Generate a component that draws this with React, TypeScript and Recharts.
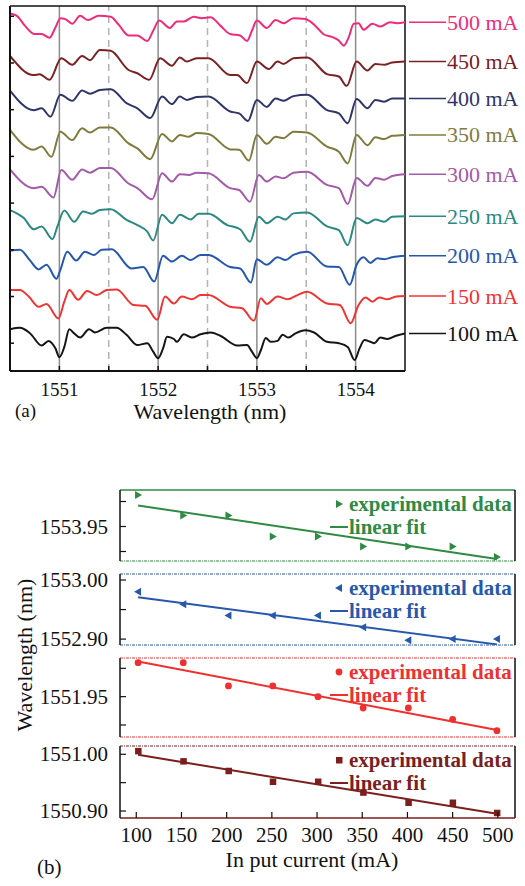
import { LineChart, Line, XAxis, YAxis, ReferenceLine, ComposedChart, Scatter, Legend } from "recharts";

const SERIF = "'Liberation Serif', 'DejaVu Serif', serif";

// (a) transmission spectra: wavelength (nm) and stacked level (a.u.)
const wl100 = [1550.5, 1550.6, 1550.7, 1550.82, 1550.89, 1550.96, 1551.0, 1551.05, 1551.1, 1551.15, 1551.21, 1551.3, 1551.36, 1551.48, 1551.58, 1551.68, 1551.79, 1551.89, 1551.95, 1552.0, 1552.05, 1552.09, 1552.16, 1552.19, 1552.26, 1552.34, 1552.43, 1552.53, 1552.63, 1552.8, 1552.9, 1552.95, 1553.0, 1553.04, 1553.09, 1553.14, 1553.21, 1553.26, 1553.32, 1553.39, 1553.49, 1553.58, 1553.71, 1553.83, 1553.92, 1553.99, 1554.04, 1554.09, 1554.15, 1554.19, 1554.25, 1554.32, 1554.41, 1554.5];
const lv100 = [3.0, 3.3, 2.2, -0.5, 0.5, -1.1, -3.0, -0.8, 3.0, 2.1, 1.2, 3.0, 2.3, 3.3, 3.3, 1.8, -0.4, 0.0, -1.8, -3.2, -1.1, 1.4, 0.9, 0.3, 1.9, 1.2, 1.9, 2.3, 1.6, -0.5, -0.4, -1.8, -3.2, -1.5, 1.1, 0.3, 0.5, 1.8, 1.2, 2.1, 2.8, 2.3, 0.3, 0.0, -0.8, -3.6, -1.1, 0.7, 0.3, 0.0, 1.2, 0.9, 1.6, 2.1];

const wl150 = [1550.5, 1550.6, 1550.69, 1550.79, 1550.87, 1550.99, 1551.05, 1551.1, 1551.19, 1551.28, 1551.38, 1551.48, 1551.58, 1551.75, 1551.87, 1551.99, 1552.07, 1552.16, 1552.24, 1552.34, 1552.43, 1552.51, 1552.73, 1552.85, 1552.97, 1553.04, 1553.1, 1553.21, 1553.31, 1553.41, 1553.51, 1553.71, 1553.84, 1553.95, 1554.03, 1554.1, 1554.17, 1554.24, 1554.32, 1554.41, 1554.5];
const lv150 = [11.4, 11.4, 10.0, 7.8, 8.4, 5.3, 8.9, 11.4, 9.3, 11.2, 10.3, 11.4, 11.5, 8.2, 8.0, 5.0, 10.0, 8.5, 10.0, 9.4, 10.3, 10.3, 7.8, 7.5, 4.8, 9.6, 8.4, 10.0, 9.4, 10.3, 11.0, 8.5, 8.2, 4.3, 8.2, 9.8, 8.9, 9.8, 9.4, 10.0, 10.1];

const wl200 = [1550.5, 1550.6, 1550.7, 1550.79, 1550.87, 1550.97, 1551.01, 1551.08, 1551.17, 1551.26, 1551.35, 1551.43, 1551.53, 1551.73, 1551.85, 1551.96, 1552.05, 1552.14, 1552.24, 1552.33, 1552.43, 1552.51, 1552.73, 1552.83, 1552.94, 1553.0, 1553.1, 1553.21, 1553.29, 1553.37, 1553.51, 1553.71, 1553.83, 1553.94, 1554.01, 1554.08, 1554.15, 1554.22, 1554.29, 1554.37, 1554.5];
const lv200 = [19.8, 20.0, 17.8, 15.8, 16.8, 13.8, 15.7, 19.6, 17.7, 19.6, 18.9, 20.0, 20.1, 16.0, 16.3, 13.2, 18.7, 17.5, 18.7, 17.8, 18.9, 18.9, 16.3, 16.0, 13.0, 18.0, 16.8, 18.4, 17.8, 18.9, 19.6, 16.4, 16.3, 12.5, 16.8, 18.4, 17.2, 18.2, 18.0, 18.4, 18.7];

const wl250 = [1550.5, 1550.64, 1550.74, 1550.82, 1550.93, 1550.98, 1551.05, 1551.15, 1551.24, 1551.33, 1551.41, 1551.52, 1551.68, 1551.79, 1551.89, 1551.95, 1552.04, 1552.14, 1552.22, 1552.33, 1552.41, 1552.51, 1552.7, 1552.83, 1552.93, 1553.02, 1553.1, 1553.21, 1553.29, 1553.37, 1553.51, 1553.71, 1553.83, 1553.92, 1554.01, 1554.12, 1554.2, 1554.29, 1554.37, 1554.5];
const lv250 = [28.5, 26.8, 24.4, 25.0, 22.3, 25.0, 28.4, 26.0, 28.2, 27.7, 28.5, 28.7, 26.4, 25.3, 23.9, 22.0, 27.5, 25.7, 27.5, 26.5, 27.7, 27.7, 25.3, 24.4, 21.7, 27.1, 25.7, 27.1, 26.5, 27.8, 28.0, 25.0, 24.2, 21.0, 26.8, 25.7, 26.5, 26.0, 27.1, 27.2];

const wl300 = [1550.5, 1550.74, 1550.82, 1550.94, 1551.02, 1551.13, 1551.23, 1551.31, 1551.41, 1551.52, 1551.7, 1551.79, 1551.94, 1552.04, 1552.14, 1552.22, 1552.31, 1552.39, 1552.51, 1552.73, 1552.82, 1552.93, 1553.02, 1553.1, 1553.19, 1553.27, 1553.37, 1553.51, 1553.71, 1553.83, 1553.92, 1554.01, 1554.12, 1554.2, 1554.29, 1554.37, 1554.5];
const lv300 = [37.2, 33.2, 33.5, 31.2, 37.1, 35.0, 37.2, 36.5, 37.5, 37.5, 34.2, 33.2, 30.8, 36.4, 34.6, 36.2, 36.0, 36.5, 36.4, 33.2, 32.8, 30.3, 36.0, 34.6, 35.7, 35.3, 36.5, 36.7, 33.9, 33.2, 29.8, 35.4, 33.7, 35.4, 35.0, 35.8, 36.2];

const wl350 = [1550.5, 1550.74, 1550.82, 1550.92, 1551.01, 1551.13, 1551.23, 1551.31, 1551.41, 1551.52, 1551.7, 1551.79, 1551.92, 1552.04, 1552.14, 1552.22, 1552.31, 1552.39, 1552.51, 1552.73, 1552.82, 1552.92, 1553.0, 1553.1, 1553.19, 1553.27, 1553.37, 1553.51, 1553.71, 1553.83, 1553.92, 1554.01, 1554.12, 1554.2, 1554.29, 1554.37, 1554.5];
const lv350 = [45.7, 41.4, 42.1, 39.9, 45.3, 43.5, 46.0, 45.1, 46.2, 46.2, 42.8, 41.7, 39.4, 44.8, 43.2, 44.6, 44.2, 45.0, 44.8, 41.5, 41.4, 39.1, 44.6, 42.7, 44.2, 43.9, 45.3, 45.1, 42.1, 41.0, 38.5, 44.6, 42.4, 44.1, 43.7, 44.4, 44.6];

const wl400 = [1550.5, 1550.74, 1550.82, 1550.91, 1551.01, 1551.13, 1551.23, 1551.31, 1551.41, 1551.52, 1551.68, 1551.79, 1551.92, 1552.04, 1552.14, 1552.22, 1552.29, 1552.39, 1552.51, 1552.73, 1552.82, 1552.91, 1553.0, 1553.1, 1553.19, 1553.27, 1553.37, 1553.51, 1553.71, 1553.83, 1553.92, 1554.01, 1554.12, 1554.2, 1554.29, 1554.37, 1554.5];
const lv400 = [54.1, 49.9, 50.3, 48.5, 53.2, 51.9, 54.1, 53.4, 54.2, 54.4, 51.4, 50.3, 48.2, 52.8, 51.2, 52.8, 52.1, 52.7, 52.8, 49.6, 49.2, 47.6, 52.1, 50.6, 52.4, 51.9, 52.9, 53.2, 49.9, 49.2, 47.1, 52.3, 50.3, 52.1, 51.7, 52.4, 52.4];

const wl450 = [1550.5, 1550.74, 1550.8, 1550.9, 1551.02, 1551.13, 1551.23, 1551.31, 1551.41, 1551.52, 1551.7, 1551.79, 1551.91, 1552.02, 1552.14, 1552.22, 1552.29, 1552.39, 1552.51, 1552.73, 1552.8, 1552.9, 1553.0, 1553.12, 1553.21, 1553.27, 1553.37, 1553.51, 1553.71, 1553.83, 1553.91, 1554.01, 1554.12, 1554.2, 1554.29, 1554.37, 1554.5];
const lv450 = [61.5, 57.4, 57.6, 56.4, 61.0, 59.6, 61.5, 60.6, 62.8, 62.6, 58.5, 57.8, 56.4, 61.0, 59.4, 61.2, 60.3, 61.0, 61.0, 57.4, 57.4, 55.7, 60.3, 58.7, 60.3, 59.8, 61.0, 61.2, 57.6, 57.1, 55.1, 60.3, 58.4, 59.8, 59.6, 60.1, 60.3];

const wl500 = [1550.5, 1550.57, 1550.65, 1550.75, 1550.82, 1550.9, 1550.96, 1551.01, 1551.06, 1551.13, 1551.21, 1551.29, 1551.4, 1551.52, 1551.6, 1551.7, 1551.79, 1551.89, 1551.95, 1552.01, 1552.12, 1552.19, 1552.26, 1552.36, 1552.44, 1552.53, 1552.63, 1552.73, 1552.83, 1552.9, 1552.95, 1553.0, 1553.1, 1553.19, 1553.27, 1553.37, 1553.49, 1553.58, 1553.68, 1553.76, 1553.83, 1553.88, 1553.93, 1553.98, 1554.03, 1554.08, 1554.17, 1554.25, 1554.35, 1554.42, 1554.5];
const lv500 = [70.6, 70.1, 68.0, 66.2, 66.2, 65.4, 67.6, 69.6, 69.4, 68.4, 70.1, 69.2, 70.1, 69.9, 68.2, 65.9, 65.9, 64.7, 66.9, 69.1, 67.5, 68.9, 68.9, 69.9, 69.6, 69.8, 68.0, 66.2, 65.9, 64.7, 66.9, 69.1, 67.5, 69.2, 68.5, 69.6, 69.4, 68.2, 66.1, 65.6, 64.8, 63.7, 65.5, 68.4, 68.5, 67.1, 68.4, 67.8, 68.7, 68.5, 68.7];

const spectra = [
  { label: "100 mA", color: "#151515", wl: wl100, lv: lv100 },
  { label: "150 mA", color: "#ef3434", wl: wl150, lv: lv150 },
  { label: "200 mA", color: "#2657ad", wl: wl200, lv: lv200 },
  { label: "250 mA", color: "#2b8982", wl: wl250, lv: lv250 },
  { label: "300 mA", color: "#a35aa8", wl: wl300, lv: lv300 },
  { label: "350 mA", color: "#7f7b3d", wl: wl350, lv: lv350 },
  { label: "400 mA", color: "#2f3667", wl: wl400, lv: lv400 },
  { label: "450 mA", color: "#7a2125", wl: wl450, lv: lv450 },
  { label: "500 mA", color: "#ee2c7b", wl: wl500, lv: lv500 },
];

const wlDomain = [1550.5, 1554.5];
const levelDomain = [-5.95, 72.2];
const wlSolid = [1551, 1552, 1553, 1554];
const wlDashed = [1551.5, 1552.5, 1553.5];
const wlTicks = [1551, 1551.5, 1552, 1552.5, 1553, 1553.5, 1554];
const levelTicks = [0, 10, 20, 30, 40, 50, 60, 70];

// (b) dip wavelength (nm) vs input current (mA)
const currents = [102, 152, 202, 251, 301, 351, 401, 450, 499];
const dip1554 = [1554.013, 1553.972, 1553.972, 1553.93, 1553.93, 1553.91, 1553.91, 1553.91, 1553.889];
const dip1553 = [1552.98, 1552.959, 1552.94, 1552.94, 1552.94, 1552.92, 1552.898, 1552.9, 1552.9];
const dip1552 = [1552.01, 1552.01, 1551.969, 1551.969, 1551.95, 1551.93, 1551.93, 1551.91, 1551.89];
const dip1551 = [1551.006, 1550.988, 1550.971, 1550.952, 1550.952, 1550.933, 1550.915, 1550.915, 1550.897];
const fitCurrents = [102, 499];
const fit1554 = [1553.992, 1553.885];
const fit1553 = [1552.971, 1552.891];
const fit1552 = [1552.012, 1551.891];
const fit1551 = [1550.999, 1550.895];
const currentTicks = [100, 150, 200, 250, 300, 350, 400, 450, 500];
const currentDomain = [82, 519];

const panels = [
  { color: "#2f8a43", kind: "right", dips: dip1554, fit: fit1554, domain: [1553.881, 1554.023], ticks: [1553.9, 1553.95, 1554.0], labeled: [1553.95], top: 485, plotH: 71, solidTop: true, showX: false },
  { color: "#2758ab", kind: "left", dips: dip1553, fit: fit1553, domain: [1552.89, 1553.0102], ticks: [1552.9, 1552.95, 1553.0], labeled: [1552.9, 1553.0], top: 569, plotH: 71, solidTop: false, showX: false },
  { color: "#ee3030", kind: "circle", dips: dip1552, fit: fit1552, domain: [1551.8788, 1552.0182], ticks: [1551.9, 1551.95, 1552.0], labeled: [1551.95], top: 653, plotH: 79, solidTop: false, showX: false },
  { color: "#7b1e1e", kind: "square", dips: dip1551, fit: fit1551, domain: [1550.8877, 1551.0146], ticks: [1550.9, 1550.95, 1551.0], labeled: [1550.9, 1551.0], top: 741, plotH: 72, solidTop: false, showX: true },
];

const A_XGAP = 12;
const B_YGAP = 12;
const B_XGAP = 9;

function WlTick(props: any) {
  const { x, y, payload } = props;
  const v = payload.value;
  const axisY = y - A_XGAP;
  return (
    <g>
      <line x1={x} x2={x} y1={axisY} y2={axisY - 5} stroke="#111" strokeWidth={1.5} />
      {Number.isInteger(v) && (
        <text x={x} y={y} dy="0.71em" textAnchor="middle" fontSize={19} fontFamily={SERIF} fill="#111">{v}</text>
      )}
    </g>
  );
}

function LevelTick(props: any) {
  const { x, y } = props;
  const axisX = x + 2;
  return <line x1={axisX} x2={axisX + 4} y1={y} y2={y} stroke="#111" strokeWidth={1.5} />;
}

function SpectrumLabel(props: any) {
  const { index, last, color, text } = props;
  if (index !== last) return null;
  const x = props.x ?? props.viewBox?.x;
  const y = props.y ?? props.viewBox?.y;
  return (
    <g>
      <line x1={x + 4} x2={x + 41} y1={y} y2={y} stroke={color} strokeWidth={1.5} />
      <text x={x + 42} y={y} dominantBaseline="central" fill={color} fontSize={22} fontFamily={SERIF}>{text}</text>
    </g>
  );
}

function Marker({ cx, cy, kind, color }: any) {
  if (kind === "right") return <polygon points={`${cx - 3},${cy - 4} ${cx + 4},${cy} ${cx - 3},${cy + 4}`} fill={color} />;
  if (kind === "left") return <polygon points={`${cx + 3},${cy - 4} ${cx - 4},${cy} ${cx + 3},${cy + 4}`} fill={color} />;
  if (kind === "circle") return <circle cx={cx} cy={cy} r={3.4} fill={color} />;
  return <rect x={cx - 3} y={cy - 3} width={6.5} height={6.5} fill={color} />;
}

function FitLegend({ color, kind }: any) {
  const row = { display: "flex", alignItems: "center", height: 23 };
  return (
    <div style={{ fontFamily: SERIF, fontWeight: 700, fontSize: 21, color, lineHeight: "23px", whiteSpace: "nowrap" }}>
      <div style={row}>
        <svg width={21} height={12}><Marker cx={11} cy={6} kind={kind} color={color} /></svg>
        <span>experimental data</span>
      </div>
      <div style={row}>
        <svg width={21} height={12}><line x1={2} x2={20} y1={6} y2={6} stroke={color} strokeWidth={2} /></svg>
        <span>linear fit</span>
      </div>
    </div>
  );
}

function DipPanel({ p }: any) {
  const pts = currents.map((c, i) => ({ x: c, y: p.dips[i] }));
  const fit = fitCurrents.map((c, i) => ({ x: c, y: p.fit[i] }));
  const xH = p.showX ? 45 : 0;
  const h = 5 + p.plotH + (p.showX ? xH : 5);
  const yTick = (props: any) => {
    const { x, y, payload } = props;
    const v = payload.value;
    const axisX = x + B_YGAP;
    return (
      <g>
        <line x1={axisX} x2={axisX + 6} y1={y} y2={y} stroke="#111" strokeWidth={1.2} />
        {p.labeled.includes(v) && (
          <text x={x} y={y} dominantBaseline="central" textAnchor="end" fontSize={21} fontFamily={SERIF} fill="#111">{v.toFixed(2)}</text>
        )}
      </g>
    );
  };
  const xTick = (props: any) => {
    const { x, y, payload } = props;
    const axisY = y - B_XGAP;
    return (
      <g>
        <line x1={x} x2={x} y1={axisY} y2={axisY - 6} stroke="#111" strokeWidth={1.2} />
        <text x={x} y={y} dy="0.71em" textAnchor="middle" fontSize={21} fontFamily={SERIF} fill="#111">{payload.value}</text>
      </g>
    );
  };
  return (
    <div style={{ position: "absolute", left: 0, top: p.top }}>
      <ComposedChart width={525} height={h} margin={{ top: 5, right: 10, bottom: p.showX ? 0 : 5, left: 0 }}>
        <XAxis
          type="number"
          dataKey="x"
          domain={currentDomain}
          allowDataOverflow
          ticks={currentTicks}
          hide={!p.showX}
          height={xH}
          tickSize={0}
          tickMargin={B_XGAP}
          tickLine={false}
          tick={xTick}
          axisLine={{ stroke: p.color, strokeWidth: 1.5 }}
        />
        <YAxis
          type="number"
          dataKey="y"
          domain={p.domain}
          allowDataOverflow
          ticks={p.ticks}
          width={120}
          tickSize={0}
          tickMargin={B_YGAP}
          tickLine={false}
          tick={yTick}
          axisLine={{ stroke: "#111", strokeWidth: 1.5 }}
        />
        <ReferenceLine
          y={p.domain[1]}
          stroke={p.color}
          strokeWidth={p.solidTop ? 1.5 : 1}
          strokeDasharray={p.solidTop ? undefined : "3 1 1 1"}
        />
        {!p.showX && <ReferenceLine y={p.domain[0]} stroke={p.color} strokeWidth={1} strokeDasharray="3 1 1 1" />}
        <ReferenceLine x={currentDomain[1]} stroke="#111" strokeWidth={1.5} />
        <Line data={fit} dataKey="y" type="linear" stroke={p.color} strokeWidth={2} dot={false} isAnimationActive={false} />
        <Scatter data={pts} dataKey="y" fill={p.color} isAnimationActive={false}
          shape={(s: any) => <Marker cx={s.cx} cy={s.cy} kind={p.kind} color={p.color} />} />
        <Legend
          layout="horizontal"
          verticalAlign="middle"
          align="center"
          wrapperStyle={{ left: 328, top: 7.5, width: 195 }}
          content={() => <FitLegend color={p.color} kind={p.kind} />}
        />
      </ComposedChart>
    </div>
  );
}

export default function App() {
  return (
    <div style={{ position: "absolute", left: 0, top: 0, width: 525, height: 886, background: "#fff", fontFamily: SERIF, color: "#111" }}>
      <div style={{ position: "absolute", left: 0, top: 0 }}>
        <LineChart width={525} height={420} margin={{ top: 6, right: 120, bottom: 0, left: 0 }}>
          <XAxis
            type="number"
            dataKey="wl"
            domain={wlDomain}
            allowDataOverflow
            ticks={wlTicks}
            height={49}
            tickSize={0}
            tickMargin={A_XGAP}
            tickLine={false}
            tick={WlTick}
            axisLine={{ stroke: "#111", strokeWidth: 2 }}
          />
          <YAxis
            type="number"
            dataKey="lv"
            domain={levelDomain}
            allowDataOverflow
            ticks={levelTicks}
            width={10}
            tickSize={0}
            tickMargin={2}
            tickLine={false}
            tick={LevelTick}
            axisLine={{ stroke: "#111", strokeWidth: 2 }}
          />
          {wlSolid.map((w) => (
            <ReferenceLine key={"s" + w} x={w} stroke="#8c8c8c" strokeWidth={1.5} />
          ))}
          {wlDashed.map((w) => (
            <ReferenceLine key={"d" + w} x={w} stroke="#b4b4b4" strokeWidth={1.5} strokeDasharray="7 5" />
          ))}
          <ReferenceLine y={levelDomain[1]} stroke="#111" strokeWidth={1.5} />
          <ReferenceLine x={wlDomain[1]} stroke="#111" strokeWidth={1.5} />
          {spectra.map((s) => (
            <Line
              key={s.label}
              data={s.wl.map((w, i) => ({ wl: w, lv: s.lv[i] }))}
              dataKey="lv"
              type="monotone"
              stroke={s.color}
              strokeWidth={2}
              dot={false}
              isAnimationActive={false}
              label={(props: any) => <SpectrumLabel {...props} last={s.wl.length - 1} color={s.color} text={s.label} />}
            />
          ))}
        </LineChart>
      </div>
      <div style={{ position: "absolute", left: 15, top: 401, fontSize: 19, lineHeight: "20px" }}>(a)</div>
      <div style={{ position: "absolute", left: 210, top: 401, fontSize: 22, lineHeight: "21px", transform: "translateX(-50%)", whiteSpace: "nowrap" }}>
        Wavelength (nm)
      </div>

      {panels.map((p, i) => (
        <DipPanel key={i} p={p} />
      ))}

      <div style={{ position: "absolute", left: 25, top: 655, fontSize: 22, lineHeight: "24px", whiteSpace: "nowrap", transform: "translate(-50%, -50%) rotate(-90deg)" }}>
        Wavelength (nm)
      </div>
      <div style={{ position: "absolute", left: 312, top: 849, fontSize: 22, lineHeight: "22px", transform: "translateX(-50%)", whiteSpace: "nowrap" }}>
        In put current (mA)
      </div>
      <div style={{ position: "absolute", left: 37, top: 856, fontSize: 21, lineHeight: "22px" }}>(b)</div>
    </div>
  );
}
